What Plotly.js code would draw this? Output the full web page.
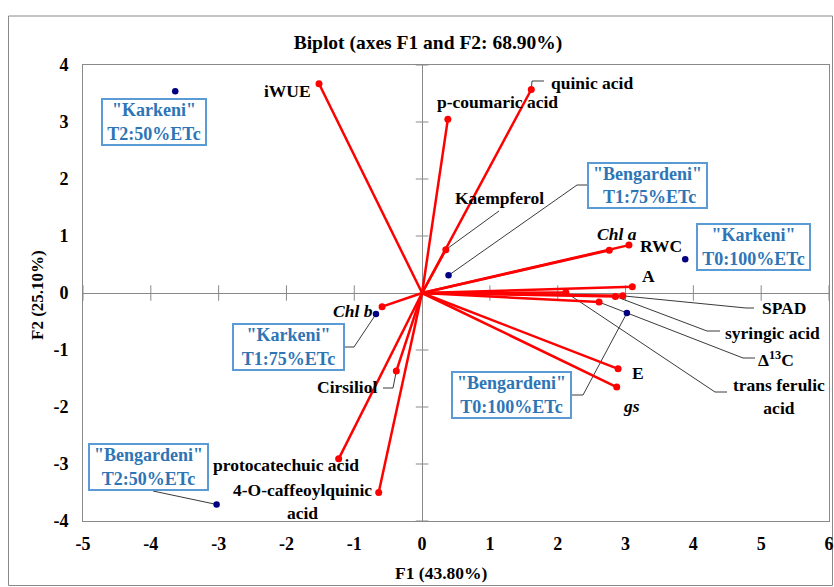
<!DOCTYPE html>
<html>
<head>
<meta charset="utf-8">
<script src="https://cdn.plot.ly/plotly-3.0.1.min.js"></script>
<style>html,body{margin:0;padding:0;background:#fff;}#chart{width:834px;height:587px;}</style>
</head>
<body>
<div id="chart"></div>
<script>
// ---------- data ----------
const varNames = ["iWUE","p-coumaric acid","quinic acid","Kaempferol","Chl a","RWC","A","trans ferulic acid","SPAD","syringic acid","Δ13C","E","gs","Chl b","Cirsiliol","protocatechuic acid","4-O-caffeoylquinic acid"];
const varF1 = [-1.52, 0.38, 1.61, 0.35, 2.76, 3.05, 3.10, 2.12, 2.96, 2.85, 2.61, 2.89, 2.87, -0.59, -0.38, -1.23, -0.64];
const varF2 = [3.67, 3.05, 3.57, 0.76, 0.75, 0.84, 0.11, 0.01, -0.05, -0.06, -0.16, -1.33, -1.65, -0.24, -1.37, -2.91, -3.50];

const obsNames = ["Karkeni T2:50%ETc","Bengardeni T1:75%ETc","Karkeni T0:100%ETc","Karkeni T1:75%ETc","Bengardeni T2:50%ETc","Bengardeni T0:100%ETc"];
const obsF1 = [-3.64, 0.39, 3.88, -0.68, -3.03, 3.02];
const obsF2 = [3.54, 0.31, 0.59, -0.37, -3.71, -0.35];

const xTickVals = [-5,-4,-3,-2,-1,0,1,2,3,4,5,6];
const yTickVals = [-4,-3,-2,-1,0,1,2,3,4];

// ---------- layout helpers (pixel -> data) ----------
const M = {l:83, r:5, t:65, b:66};
const W = 834, H = 587;
const PW = W - M.l - M.r, PH = H - M.t - M.b;
const XR = [-5, 6], YR = [-4, 4];
function dx(px){ return XR[0] + (px - M.l) / PW * (XR[1]-XR[0]); }
function dy(py){ return YR[1] - (py - M.t) / PH * (YR[1]-YR[0]); }
function pxp(px){ return (px - M.l) / PW; }
function pyp(py){ return (H - M.b - py) / PH; }

const FONT = "Liberation Serif";

// label texts and positions (pixel centres)
const varLabelCfg = {
  "iWUE": {t:"iWUE", p:[287, 91]},
  "p-coumaric acid": {t:"p-coumaric acid", p:[497, 102]},
  "quinic acid": {t:"quinic acid", p:[592, 83]},
  "Kaempferol": {t:"Kaempferol", p:[499, 198]},
  "Chl a": {t:"<i>Chl a</i>", p:[617, 234]},
  "RWC": {t:"RWC", p:[661, 246]},
  "A": {t:"A", p:[648, 276]},
  "SPAD": {t:"SPAD", p:[784, 308]},
  "syringic acid": {t:"syringic acid", p:[772, 333]},
  "Δ13C": {t:"Δ<sup>13</sup>C", p:[776, 359]},
  "trans ferulic acid": {t:"trans ferulic<br>acid", p:[779, 396]},
  "E": {t:"E", p:[638, 373]},
  "gs": {t:"<i>gs</i>", p:[631, 406]},
  "Chl b": {t:"<i>Chl b</i>", p:[353, 311]},
  "Cirsiliol": {t:"Cirsiliol", p:[347, 387]},
  "protocatechuic acid": {t:"protocatechuic acid", p:[286, 465]},
  "4-O-caffeoylquinic acid": {t:"4-O-caffeoylquinic<br>acid", p:[302, 501]}
};
// leader elbows (pixel) for variables
const varLeaderCfg = {
  "quinic acid": [[532, 81],[544, 81]],
  "Kaempferol": [[499, 211]],
  "SPAD": [[746, 308],[754, 308]],
  "syringic acid": [[707, 331],[720, 331]],
  "Δ13C": [[743, 358],[755, 358]],
  "trans ferulic acid": [[715, 392],[727, 392]],
  "Cirsiliol": [[393, 388],[383, 388]]
};
const obsBoxCfg = {
  "Karkeni T2:50%ETc": {t:'"Karkeni"<br>T2:50%ETc', p:[154, 121.5], w:106, h:48},
  "Bengardeni T1:75%ETc": {t:'"Bengardeni"<br> T1:75%ETc', p:[647, 185.5], w:121, h:47},
  "Karkeni T0:100%ETc": {t:'"Karkeni"<br>T0:100%ETc', p:[753, 246.5], w:115, h:48},
  "Karkeni T1:75%ETc": {t:'"Karkeni"<br>T1:75%ETc', p:[288.5, 346.5], w:113, h:48},
  "Bengardeni T2:50%ETc": {t:'"Bengardeni"<br>T2:50%ETc', p:[148, 466.5], w:121, h:48},
  "Bengardeni T0:100%ETc": {t:'"Bengardeni"<br>T0:100%ETc', p:[511.5, 395], w:121, h:48}
};
const obsLeaderCfg = {
  "Bengardeni T1:75%ETc": [[577, 185],[587, 185]],
  "Karkeni T1:75%ETc": [[354, 347],[345, 347]],
  "Bengardeni T2:50%ETc": [[153, 491]],
  "Bengardeni T0:100%ETc": [[583, 395],[572, 395]]
};

// ---------- traces ----------
const gray = "#898989";
const traces = [];

// ticks on the zero axes
const xt = xTickVals.filter(v => v !== 0);
const yt = yTickVals.filter(v => v !== 0);
traces.push({type:"scatter", mode:"markers", x:xt, y:xt.map(()=>0), hoverinfo:"skip",
  marker:{symbol:"line-ns", size:11, color:gray, line:{color:gray, width:1}}});
traces.push({type:"scatter", mode:"markers", x:yt.map(()=>0), y:yt, hoverinfo:"skip",
  marker:{symbol:"line-ew", size:9, color:gray, line:{color:gray, width:1}}});

// leader lines
const lx = [], ly = [];
varNames.forEach((n, i) => {
  const e = varLeaderCfg[n]; if (!e) return;
  lx.push(varF1[i]); ly.push(varF2[i]);
  e.forEach(p => { lx.push(dx(p[0])); ly.push(dy(p[1])); });
  lx.push(null); ly.push(null);
});
obsNames.forEach((n, i) => {
  const e = obsLeaderCfg[n]; if (!e) return;
  lx.push(obsF1[i]); ly.push(obsF2[i]);
  e.forEach(p => { lx.push(dx(p[0])); ly.push(dy(p[1])); });
  lx.push(null); ly.push(null);
});
traces.push({type:"scatter", mode:"lines", x:lx, y:ly, hoverinfo:"skip",
  line:{color:"#3a3a3a", width:1}});

// vectors
const vx = [], vy = [];
varNames.forEach((n, i) => { vx.push(0, varF1[i], null); vy.push(0, varF2[i], null); });
traces.push({type:"scatter", mode:"lines", x:vx, y:vy, hoverinfo:"skip",
  line:{color:"#ff0000", width:2.5}});
traces.push({type:"scatter", mode:"markers", x:varF1, y:varF2, text:varNames, hoverinfo:"text",
  marker:{color:"#ff0000", size:7}});

// observations
traces.push({type:"scatter", mode:"markers", x:obsF1, y:obsF2, text:obsNames, hoverinfo:"text",
  marker:{color:"#000080", size:6.5}});

// ---------- annotations ----------
const annotations = [];
varNames.forEach(n => {
  const c = varLabelCfg[n];
  annotations.push({xref:"x", yref:"y", x:dx(c.p[0]), y:dy(c.p[1]), text:c.t, showarrow:false,
    xanchor:"center", yanchor:"middle", font:{family:FONT, size:17.5, color:"#000", weight:"bold"}});
});
obsNames.forEach(n => {
  const c = obsBoxCfg[n];
  annotations.push({xref:"x", yref:"y", x:dx(c.p[0]), y:dy(c.p[1]), text:c.t, showarrow:false,
    xanchor:"center", yanchor:"middle", width:c.w-6, height:c.h-6, borderpad:1, borderwidth:2,
    bordercolor:"#5b9bd5", bgcolor:"#ffffff",
    font:{family:FONT, size:18, color:"#2e75b6", weight:"bold"}});
});
annotations.push({xref:"paper", yref:"paper", x:pxp(441), y:pyp(573), text:"F1 (43.80%)", showarrow:false,
  xanchor:"center", yanchor:"middle", font:{family:FONT, size:17.5, color:"#000", weight:"bold"}});
annotations.push({xref:"paper", yref:"paper", x:pxp(37), y:pyp(295), text:"F2 (25.10%)", showarrow:false,
  textangle:-90, xanchor:"center", yanchor:"middle", font:{family:FONT, size:17, color:"#000", weight:"bold"}});

const tickFont = {family:FONT, size:18, color:"#000", weight:"bold"};
const layout = {
  width:W, height:H, margin:M, paper_bgcolor:"#fff", plot_bgcolor:"#fff", showlegend:false,
  title:{text:"Biplot (axes F1 and F2: 68.90%)", x:428/W, xanchor:"center", y:1-42/H, yanchor:"middle",
    font:{family:FONT, size:19.5, color:"#000", weight:"bold"}},
  xaxis:{range:XR, tickvals:xTickVals, ticktext:xTickVals.map(String), showgrid:false,
    zeroline:true, zerolinecolor:gray, zerolinewidth:1, showline:true, mirror:true, linecolor:gray, linewidth:1,
    ticks:"outside", ticklen:6, tickcolor:"rgba(0,0,0,0)", tickfont:tickFont, fixedrange:true},
  yaxis:{range:YR, tickvals:yTickVals, ticktext:yTickVals.map(String), showgrid:false,
    zeroline:true, zerolinecolor:gray, zerolinewidth:1, showline:true, mirror:true, linecolor:gray, linewidth:1,
    ticks:"outside", ticklen:10, tickcolor:"rgba(0,0,0,0)", tickfont:tickFont, fixedrange:true},
  annotations:annotations,
  shapes:[{type:"rect", xref:"paper", yref:"paper", x0:pxp(8.5), x1:pxp(832.5), y0:pyp(585.5), y1:pyp(16),
    line:{color:gray, width:1}, fillcolor:"rgba(0,0,0,0)", layer:"below"}]
};

Plotly.newPlot("chart", traces, layout, {displayModeBar:false, staticPlot:true});
</script>
</body>
</html>
